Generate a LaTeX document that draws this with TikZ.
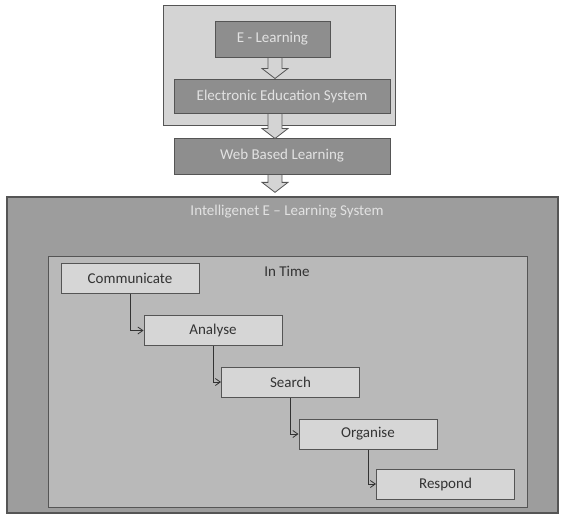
\documentclass[tikz,border=0pt]{standalone}
\usepackage{fontspec}
\setmainfont{Carlito}
\usetikzlibrary{arrows.meta,calc}
\definecolor{outerlight}{HTML}{D4D4D4}
\definecolor{darkbox}{HTML}{8E8E8E}
\definecolor{bigbox}{HTML}{9D9D9D}
\definecolor{innerbox}{HTML}{B9B9B9}
\definecolor{stepfill}{HTML}{D6D6D6}
\definecolor{edge}{HTML}{555555}
\definecolor{lighttext}{HTML}{E2E2E2}
\definecolor{darktext}{HTML}{333333}
\newcommand\fatarrow[2]{%
  \path[fatarr] let \p1=(#1), \p2=(#2) in
    (\x1-7pt,\y1) -- (\x1+7pt,\y1) -- (\x1+7pt,\y2+10pt) -- (\x1+13pt,\y2+10pt)
    -- (\x1,\y2) -- (\x1-13pt,\y2+10pt) -- (\x1-7pt,\y2+10pt) -- cycle;}
\begin{document}
\begin{tikzpicture}[x=1pt,y=-1pt,
  frame/.style={draw=edge, line width=1pt, rectangle, inner sep=0pt},
  darkstep/.style={frame, fill=darkbox, text=lighttext, font=\fontsize{15}{17}\selectfont},
  stepbox/.style={frame, fill=stepfill, text=darktext, minimum width=138pt, minimum height=30pt, font=\fontsize{15}{17}\selectfont},
  fatarr/.style={draw=edge, line width=0.8pt, fill=outerlight},
  link/.style={draw=darktext, line width=0.8pt, -{Straight Barb[length=5pt,width=7pt]}}]
\useasboundingbox (0,0) rectangle (563,517);
\fill[white] (0,0) rectangle (563,517);
% top group
\node[frame, fill=outerlight, minimum width=232pt, minimum height=120pt] (top) at (279,65) {};
\node[darkstep, minimum width=115pt, minimum height=36pt] (el) at (272.5,39) {E - Learning};
\node[darkstep, minimum width=216pt, minimum height=34pt] (ees) at (282,96) {Electronic Education System};
\node[darkstep, minimum width=216pt, minimum height=36pt] (wbl) at (282,156) {Web Based Learning};
% big box
\node[frame, fill=bigbox, line width=1.3pt, minimum width=551pt, minimum height=316pt] (big) at (282.5,355) {};
\node[text=lighttext, font=\fontsize{15}{17}\selectfont] (title) at (287,212) {Intelligenet E -- Learning System};
\node[frame, fill=innerbox, minimum width=479pt, minimum height=251pt] (inner) at (287.5,381.5) {};
\node[text=darktext, font=\fontsize{15}{17}\selectfont] (intime) at (287,271) {In Time};
% steps
\node[stepbox] (com) at (130,278) {Communicate};
\node[stepbox] (ana) at (213,330.5) {Analyse};
\node[stepbox] (sea) at (290.5,382) {Search};
\node[stepbox] (org) at (368,434) {Organise};
\node[stepbox] (res) at (445.5,484) {Respond};
% fat arrows
\coordinate (a1t) at (el.south -| 275,0);
\coordinate (a1b) at (ees.north -| 275,0);
\coordinate (a2t) at (ees.south -| 275,0);
\coordinate (a2b) at ($(wbl.north -| 275,0)+(0,1)$);
\coordinate (a3t) at (wbl.south -| 275,0);
\coordinate (a3b) at ($(big.north -| 275,0)+(0,-4)$);
\fatarrow{a1t}{a1b}
\fatarrow{a2t}{a2b}
\fatarrow{a3t}{a3b}
% connectors
\draw[link] (com.south) |- (ana.west);
\draw[link] (ana.south) |- (sea.west);
\draw[link] (sea.south) |- (org.west);
\draw[link] (org.south) |- (res.west);
\end{tikzpicture}
\end{document}
